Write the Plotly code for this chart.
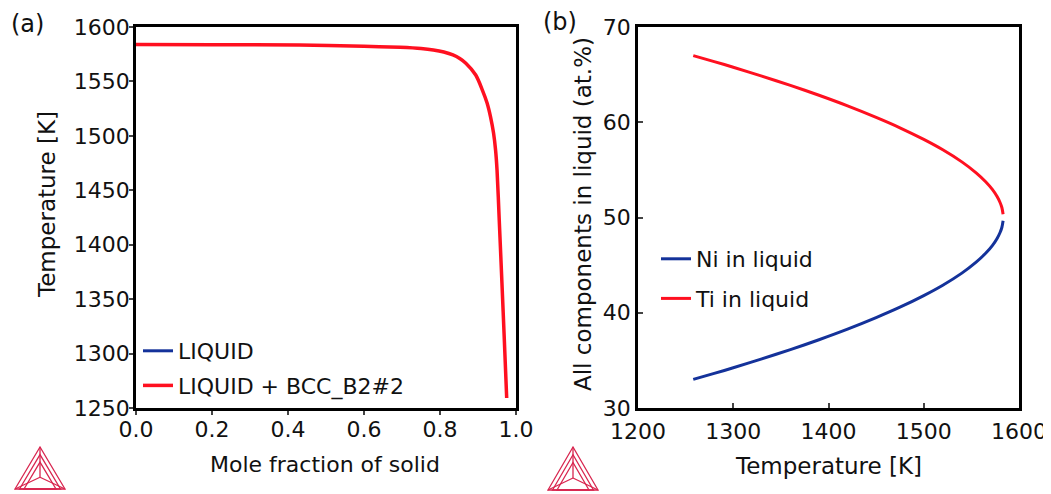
import plotly.graph_objects as go

W, H = 1051, 494
OFF = 8  # page body margin offset of the figure div

# ---------------- data ----------------
# (a) mole fraction of solid vs temperature (LIQUID + BCC_B2#2)
solid_fraction = [0.0, 0.2, 0.43, 0.6, 0.695, 0.75, 0.7824, 0.81, 0.834, 0.852, 0.868,
                  0.894, 0.9115, 0.9239, 0.9331, 0.9409, 0.9462, 0.9501, 0.9559, 0.963,
                  0.9693, 0.9755]
solid_temp = [1584.0, 1583.8, 1583.4, 1582.3, 1581.3, 1580.2, 1578.9, 1577.0, 1574.3, 1571.0, 1566.7,
              1555.9, 1542.1, 1530.2, 1517.3, 1502.6, 1487.0, 1468.6, 1422.7, 1364.8,
              1312.5, 1259.2]

# (b) composition of liquid vs temperature
liq_temp = [1258, 1280, 1300, 1330, 1360, 1390, 1420, 1450, 1475, 1500, 1520, 1540,
            1555, 1565, 1572, 1577, 1580, 1582, 1583.3]
ti_liquid = [67.0, 66.37, 65.78, 64.84, 63.87, 62.83, 61.72, 60.51, 59.42, 58.2, 57.11, 55.84,
             54.69, 53.76, 52.95, 52.2, 51.6, 51.05, 50.35]
ni_liquid = [33.0, 33.63, 34.22, 35.16, 36.13, 37.17, 38.28, 39.49, 40.58, 41.8, 42.89, 44.16,
             45.31, 46.24, 47.05, 47.8, 48.4, 48.95, 49.65]

left_yticks = [1250, 1300, 1350, 1400, 1450, 1500, 1550, 1600]
left_xticks = [0.0, 0.2, 0.4, 0.6, 0.8, 1.0]
right_xticks = [1200, 1300, 1400, 1500, 1600]
right_yticks = [30, 40, 50, 60, 70]

RED = "#ff1020"
BLUE = "#14329a"
LOGO = "#d8264f"
FONT = "DejaVu Sans, Arial, sans-serif"
TXT = "#111111"


def px(x):
    return (x - OFF) / W


def py(y):
    return 1 - (y - OFF) / H


fig = go.Figure()

# (a)
fig.add_trace(go.Scatter(x=[None], y=[None], mode="lines", name="LIQUID",
                         line=dict(color=BLUE, width=3), xaxis="x", yaxis="y",
                         legend="legend", legendgroup="a1"))
fig.add_trace(go.Scatter(x=solid_fraction, y=solid_temp, mode="lines", name="LIQUID + BCC_B2#2",
                         line=dict(color=RED, width=3.5, shape="spline", smoothing=0.8),
                         xaxis="x", yaxis="y", legend="legend", legendgroup="a2"))
# (b)
fig.add_trace(go.Scatter(x=liq_temp, y=ni_liquid, mode="lines", name="Ni in liquid",
                         line=dict(color=BLUE, width=3, shape="spline", smoothing=0.8),
                         xaxis="x2", yaxis="y2", legend="legend2", legendgroup="b1"))
fig.add_trace(go.Scatter(x=liq_temp, y=ti_liquid, mode="lines", name="Ti in liquid",
                         line=dict(color=RED, width=3, shape="spline", smoothing=0.8),
                         xaxis="x2", yaxis="y2", legend="legend2", legendgroup="b2"))

ydom = [py(408), py(27)]
axis_common = dict(showline=True, linecolor="black", linewidth=2.5, mirror=True,
                   showgrid=False, zeroline=False, automargin=False,
                   tickfont=dict(family=FONT, size=22, color=TXT))

fig.update_layout(
    width=W, height=H,
    margin=dict(l=0, r=0, t=0, b=0, autoexpand=False),
    paper_bgcolor="white", plot_bgcolor="white",
    font=dict(family=FONT, size=22, color=TXT),
    xaxis=dict(domain=[px(136), px(516)], range=[0, 1.0], tickvals=left_xticks,
               tickformat=".1f", ticks="outside", ticklen=4, tickwidth=2, anchor="y",
               ticklabelstandoff=-4, **axis_common),
    yaxis=dict(domain=ydom, range=[1250, 1600], tickvals=left_yticks,
               ticks="outside", ticklen=4, tickwidth=2, anchor="x",
               ticklabelstandoff=-5, **axis_common),
    xaxis2=dict(domain=[px(638), px(1019)], range=[1200, 1600], tickvals=right_xticks,
                ticks="inside", ticklen=5, tickwidth=2, anchor="y2",
                ticklabelstandoff=2, **axis_common),
    yaxis2=dict(domain=ydom, range=[30, 70], tickvals=right_yticks,
                ticks="inside", ticklen=5, tickwidth=2, anchor="x2",
                ticklabelstandoff=0, **axis_common),
    legend=dict(x=px(138), y=py(330), xanchor="left", yanchor="top",
                bgcolor="rgba(0,0,0,0)", borderwidth=0, tracegroupgap=3,
                font=dict(family=FONT, size=22, color=TXT)),
    legend2=dict(x=px(656), y=py(238), xanchor="left", yanchor="top",
                 bgcolor="rgba(0,0,0,0)", borderwidth=0, tracegroupgap=8,
                 font=dict(family=FONT, size=22, color=TXT)),
    showlegend=True,
)

annotations = [
    dict(text="(a)", x=px(27), y=py(24), showarrow=False, font=dict(size=24)),
    dict(text="(b)", x=px(560), y=py(22), showarrow=False, font=dict(size=24)),
    dict(text="Temperature [K]", x=px(47), y=py(205), textangle=-90, showarrow=False,
         font=dict(size=23)),
    dict(text="Mole fraction of solid", x=px(325), y=py(464), showarrow=False),
    dict(text="All components in liquid (at.%)", x=px(583), y=py(214), textangle=-90,
         showarrow=False, font=dict(size=23)),
    dict(text="Temperature [K]", x=px(828), y=py(466), showarrow=False, font=dict(size=23)),
]
for a in annotations:
    a.update(xref="paper", yref="paper", xanchor="center", yanchor="middle")
fig.update_layout(annotations=annotations)


def logo_shapes(cx, top, bottom, half):
    """Thermo-Calc style triangular logo drawn in pixel coords."""
    shapes = []
    tl = (cx, top)
    bl = (cx - half, bottom)
    br = (cx + half, bottom)
    cen = (cx, bottom - (bottom - top) * 0.28)

    def path(points, close=False):
        s = "M " + " L ".join(f"{px(x):.5f},{py(y):.5f}" for x, y in points)
        return s + (" Z" if close else "")

    shapes.append(path([tl, bl, br], True))
    for f in (0.82, 0.64):
        t = (cx, bottom - (bottom - top) * f)
        shapes.append(path([t, (cx - half * f, bottom), (cx + half * f, bottom)], True))
    shapes.append(path([tl, cen]))
    shapes.append(path([bl, cen]))
    shapes.append(path([br, cen]))
    return [dict(type="path", path=p, xref="paper", yref="paper",
                 line=dict(color=LOGO, width=1.3)) for p in shapes]


fig.update_layout(shapes=logo_shapes(40, 447, 489, 25) + logo_shapes(573, 447, 490, 25))

fig.write_html("out.html")
